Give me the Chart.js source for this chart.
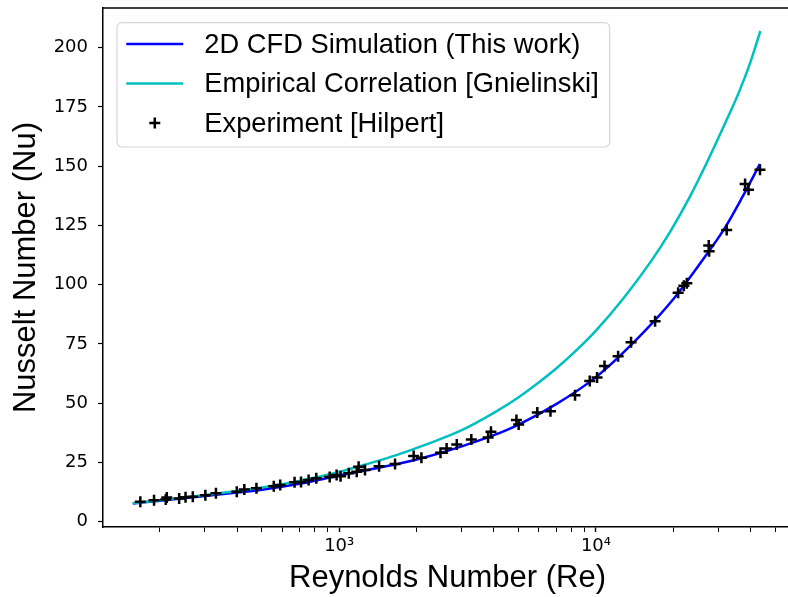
<!DOCTYPE html>
<html>
<head>
<meta charset="utf-8">
<script src="https://cdn.jsdelivr.net/npm/chart.js@4.4.1/dist/chart.umd.min.js"></script>
<style>
    html, body { margin: 0; padding: 0; background: #ffffff; overflow: hidden; }
    #wrap { width: 800px; height: 597px; }
</style>
</head>
<body>
<div id="wrap"><canvas id="nuChart" width="800" height="597"></canvas></div>
<script>
// 2D CFD simulation curve
const cfdRe = [157, 200, 300, 400, 500, 700, 1000, 1300, 1670, 2200, 3000, 4000, 5000, 7000, 10000, 15350, 20300, 25400, 31600, 37200, 43500];
const cfdNu = [7.7, 8.8, 10.8, 12.3, 13.5, 16.0, 19.5, 21.9, 24.2, 27.4, 31.8, 36.5, 41.0, 49.6, 61.0, 80.0, 94.7, 108.8, 123.5, 137.0, 150.9];

// Gnielinski correlation curve
const corrRe = [157, 200, 300, 400, 500, 700, 1000, 1300, 1670, 2200, 3000, 4000, 5000, 6000, 7000, 8500, 10000, 12850, 16300, 19500, 23200, 26900, 31200, 36000, 40000, 43700];
const corrNu = [7.8, 9.0, 11.3, 13.0, 14.4, 17.2, 21.0, 24.5, 28.1, 32.7, 38.6, 45.9, 52.5, 58.8, 64.6, 72.9, 80.6, 94.5, 109.5, 122.5, 137.0, 151.0, 166.0, 181.0, 194.0, 207.0];

// Hilpert experiment points
const expRe = [168, 190, 211, 213, 238, 252, 269, 301, 331, 399, 427, 476, 556, 589, 670, 710, 760, 814, 918, 977, 1012, 1090, 1170, 1190, 1260, 1430, 1650,
    1950, 2090, 2480, 2620, 2870, 3270, 3800, 3900, 4900, 5000, 5910, 6650, 8290, 9460, 10100, 10800, 12200, 13700, 17000, 20900, 22000, 22600,
    27500, 27600, 32300, 38100, 39300, 43550];
const expNu = [8.4, 9.1, 9.4, 10.2, 9.8, 10.3, 10.5, 11.2, 12.0, 12.6, 13.6, 14.1, 15.0, 15.5, 16.6, 16.8, 17.6, 18.3, 18.9, 19.7, 19.2, 20.4, 21.1, 23.2, 21.8, 23.4, 24.3,
    27.7, 27.0, 29.1, 30.9, 32.6, 34.7, 35.5, 37.9, 42.9, 41.0, 46.1, 46.6, 53.3, 59.4, 60.8, 65.7, 69.8, 75.7, 84.6, 96.6, 99.5, 100.6,
    116.5, 114.1, 123.1, 142.5, 140.0, 148.5];

const xTickValues = [200, 300, 400, 500, 600, 700, 800, 900, 1000, 2000, 3000, 4000, 5000, 6000, 7000, 8000, 9000, 10000, 20000, 30000, 40000, 50000];
const yTickValues = [0, 25, 50, 75, 100, 125, 150, 175, 200];

const toPoints = (xs, ys) => xs.map((x, i) => ({ x: x, y: ys[i] }));

// top spine + legend box drawn like matplotlib
const frameAndLegend = {
    id: 'frameAndLegend',
    afterDraw: (chart) => {
        const ctx = chart.ctx;
        const area = chart.chartArea;

        ctx.save();
        ctx.strokeStyle = '#000000';
        ctx.lineWidth = 1.5;
        ctx.beginPath();
        ctx.moveTo(area.left, area.top);
        ctx.lineTo(area.right, area.top);
        ctx.stroke();

        const bx = area.left + 14;
        const by = area.top + 14.7;
        const bw = 492.6;
        const bh = 124.3;
        ctx.beginPath();
        ctx.roundRect(bx, by, bw, bh, 5);
        ctx.fillStyle = 'rgba(255,255,255,0.8)';
        ctx.fill();
        ctx.strokeStyle = '#d6d6d6';
        ctx.lineWidth = 1.2;
        ctx.stroke();

        const rows = [21.3, 60.8, 100.3];
        ctx.font = '27.3px "Liberation Sans", Arial, sans-serif';
        ctx.textBaseline = 'middle';
        ctx.fillStyle = '#000000';
        chart.data.datasets.forEach((ds, i) => {
            const cy = by + rows[i];
            if (ds.showLine === false) {
                const cx = bx + 37.8;
                ctx.strokeStyle = ds.borderColor;
                ctx.lineWidth = 2.5;
                ctx.beginPath();
                ctx.moveTo(cx - 5.5, cy);
                ctx.lineTo(cx + 5.5, cy);
                ctx.moveTo(cx, cy - 5.5);
                ctx.lineTo(cx, cy + 5.5);
                ctx.stroke();
            } else {
                ctx.strokeStyle = ds.borderColor;
                ctx.lineWidth = ds.borderWidth;
                ctx.beginPath();
                ctx.moveTo(bx + 9.3, cy);
                ctx.lineTo(bx + 66.3, cy);
                ctx.stroke();
            }
            ctx.fillText(ds.label, bx + 87.3, cy + 1);
        });
        ctx.restore();
    }
};

const tickFont = { family: '"DejaVu Sans", sans-serif', size: 18 };
const titleFont = { family: '"Liberation Sans", Arial, sans-serif', size: 31 };

new Chart(document.getElementById('nuChart').getContext('2d'), {
    type: 'line',
    data: {
        datasets: [{
            label: '2D CFD Simulation (This work)',
            data: toPoints(cfdRe, cfdNu),
            borderColor: '#0000ff',
            borderWidth: 2.5,
            pointRadius: 0,
            cubicInterpolationMode: 'monotone',
            fill: false,
            order: 2
        }, {
            label: 'Empirical Correlation [Gnielinski]',
            data: toPoints(corrRe, corrNu),
            borderColor: '#00bfbf',
            borderWidth: 2.5,
            pointRadius: 0,
            cubicInterpolationMode: 'monotone',
            fill: false,
            order: 1
        }, {
            label: 'Experiment [Hilpert]',
            data: toPoints(expRe, expNu),
            showLine: false,
            borderColor: '#000000',
            backgroundColor: '#000000',
            pointStyle: 'cross',
            pointRadius: 5.5,
            pointBorderWidth: 2.5,
            order: 0
        }]
    },
    options: {
        responsive: false,
        animation: false,
        layout: { padding: { top: 7, right: 0, bottom: 0, left: 0 } },
        plugins: {
            legend: { display: false },
            tooltip: { enabled: false }
        },
        scales: {
            x: {
                type: 'logarithmic',
                min: 120.2,
                max: 58030,
                afterBuildTicks: (scale) => {
                    scale.ticks = xTickValues.map(v => ({ value: v, major: v === 1000 || v === 10000 }));
                },
                afterFit: (scale) => {
                    scale.height = 70;
                    scale.paddingLeft = 0;
                    scale.paddingRight = 0;
                },
                ticks: {
                    autoSkip: false,
                    maxRotation: 0,
                    padding: 4,
                    color: '#000000',
                    font: tickFont,
                    callback: (value) => value === 1000 ? '10³' : (value === 10000 ? '10⁴' : '')
                },
                grid: {
                    drawOnChartArea: false,
                    drawTicks: true,
                    tickLength: 5,
                    color: '#000000',
                    tickWidth: (ctx) => (ctx.tick && ctx.tick.major) ? 1.4 : 1
                },
                border: { display: true, color: '#000000', width: 1.5 },
                title: {
                    display: true,
                    text: 'Reynolds Number (Re)',
                    color: '#000000',
                    font: titleFont,
                    padding: { top: 0, bottom: 0 }
                }
            },
            y: {
                min: -2.23,
                max: 216.7,
                afterBuildTicks: (scale) => {
                    scale.ticks = yTickValues.map(v => ({ value: v }));
                },
                afterFit: (scale) => {
                    scale.width = 103;
                    scale.paddingTop = 0;
                    scale.paddingBottom = 0;
                },
                ticks: {
                    padding: 10,
                    color: '#000000',
                    font: tickFont
                },
                grid: {
                    drawOnChartArea: false,
                    drawTicks: true,
                    tickLength: 5,
                    color: '#000000',
                    tickWidth: 1.2
                },
                border: { display: true, color: '#000000', width: 1.5 },
                title: {
                    display: true,
                    text: 'Nusselt Number (Nu)',
                    color: '#000000',
                    font: titleFont,
                    padding: { top: 8, bottom: 0 }
                }
            }
        }
    },
    plugins: [frameAndLegend]
});
</script>
</body>
</html>
